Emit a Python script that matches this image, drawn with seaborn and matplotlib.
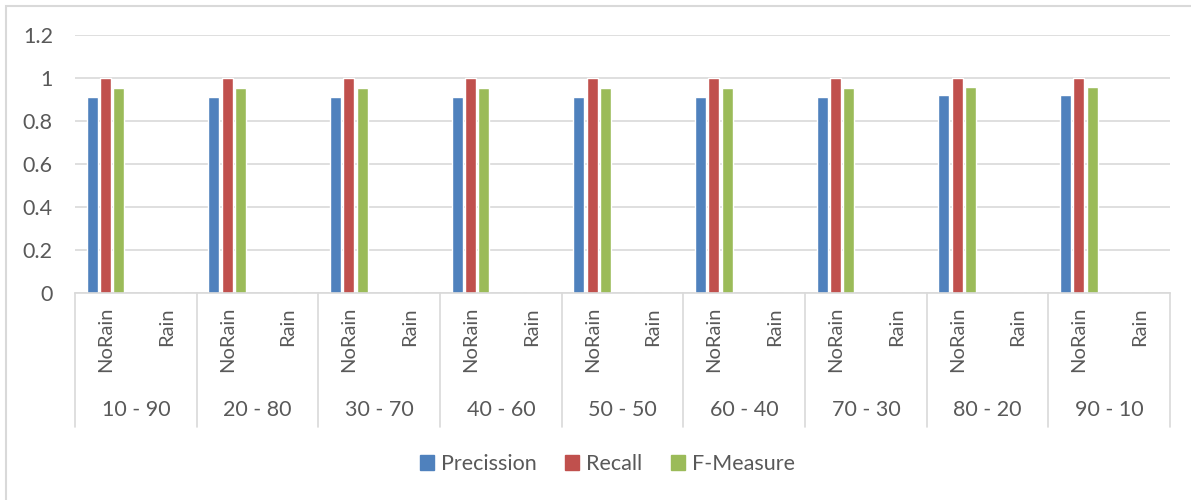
import numpy as np
import pandas as pd
import matplotlib
matplotlib.use("Agg")
import matplotlib.pyplot as plt
import matplotlib.transforms as mtransforms
from matplotlib.patches import Rectangle
import seaborn as sns

# split ratios (train - test) and the two classes inside each split
splits = ["10 - 90", "20 - 80", "30 - 70", "40 - 60", "50 - 50",
          "60 - 40", "70 - 30", "80 - 20", "90 - 10"]
classes = ["NoRain", "Rain"]

# NoRain values per split, Rain class is 0 everywhere
precision_norain = [0.913, 0.913, 0.913, 0.913, 0.913, 0.913, 0.913, 0.919, 0.919]
recall_norain = [1.0, 1.0, 1.0, 1.0, 1.0, 1.0, 1.0, 1.0, 1.0]
fmeasure_norain = [0.954, 0.954, 0.954, 0.954, 0.954, 0.954, 0.954, 0.958, 0.958]
rain_value = 0.0

metrics = ["Precission", "Recall", "F-Measure"]
colors = ["#4F81BD", "#C0504D", "#9BBB59"]
yticks = [0, 0.2, 0.4, 0.6, 0.8, 1, 1.2]

rows = []
for i, s in enumerate(splits):
    for c in classes:
        key = f"{s}|{c}"
        vals = ([precision_norain[i], recall_norain[i], fmeasure_norain[i]]
                if c == "NoRain" else [rain_value] * 3)
        for m, v in zip(metrics, vals):
            rows.append({"cat": key, "metric": m, "value": v, "cls": c})
df = pd.DataFrame(rows)
order = [f"{s}|{c}" for s in splits for c in classes]

sns.set_theme(style="white")
plt.rcParams["font.family"] = ["Lato", "DejaVu Sans"]
txt = "#595959"
grid = "#D9D9D9"
fs = 15.5

fig = plt.figure(figsize=(11.91, 5.0), dpi=100)
ax = fig.add_axes([0.063, 0.414, 0.9195, 0.516])

sns.barplot(data=df, x="cat", y="value", hue="metric", order=order,
            hue_order=metrics, palette=colors, width=0.66, gap=0.18,
            legend=True, ax=ax, saturation=1)

ax.set_ylim(0, 1.2)
ax.set_yticks(yticks)
ax.set_yticklabels([f"{t:g}" for t in yticks], color=txt, fontsize=fs)
ax.yaxis.grid(True, color=grid, linewidth=1.2)
ax.set_axisbelow(True)
ax.set_xlim(-0.5, len(order) - 0.5)
ax.set_xlabel("")
ax.set_ylabel("")
ax.tick_params(axis="y", length=0, pad=16)
ax.tick_params(axis="x", length=0, pad=10)
ax.set_xticks(range(len(order)))
ax.set_xticklabels([o.split("|")[1] for o in order], rotation=90,
                   color=txt, fontsize=14.5)
for side in ["left", "right", "top"]:
    ax.spines[side].set_visible(False)
ax.spines["bottom"].set_color(grid)
ax.spines["bottom"].set_linewidth(1.2)

# multi-level category axis: separators and split labels
trans = mtransforms.blended_transform_factory(ax.transData, ax.transAxes)
for k in range(len(splits) + 1):
    xb = 2 * k - 0.5
    ax.plot([xb, xb], [0, -0.52], color=grid, lw=1.2, transform=trans,
            clip_on=False)
for i, s in enumerate(splits):
    ax.text(2 * i + 0.5, -0.455, s, transform=trans, ha="center",
            va="center", color=txt, fontsize=fs)

ax.legend_.remove()
handles = [Rectangle((0, 0), 1, 1, color=c) for c in colors]
fig.legend(handles, metrics, loc="center", bbox_to_anchor=(0.51, 0.072),
           ncol=3, frameon=False, fontsize=fs, handlelength=0.65,
           handleheight=0.65, handletextpad=0.35, columnspacing=1.3,
           labelcolor=txt)

# outer chart border
fig.patches.append(Rectangle((6 / 1191, -0.1), 1.2, 1.1 - 6 / 500,
                             transform=fig.transFigure, fill=False,
                             edgecolor=grid, lw=1.5))

fig.savefig("out.png", dpi=100)
